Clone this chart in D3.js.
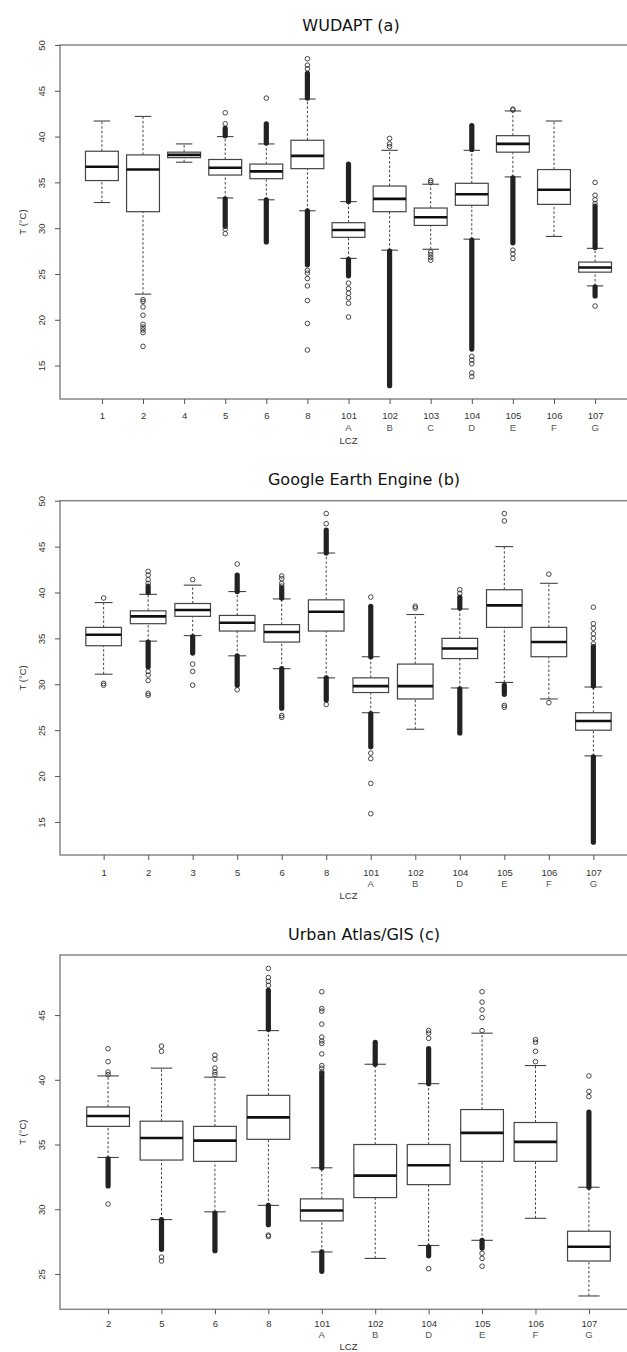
<!DOCTYPE html>
<html>
<head>
<meta charset="utf-8">
<script src="https://cdn.jsdelivr.net/npm/d3@7"></script>
<style>
  body { margin: 0; background: #fff; }
  svg { display: block; }
</style>
</head>
<body>
<div id="chart"></div>
<script>
// ---- panel (a) WUDAPT ----
const groupsA = ["1", "2", "4", "5", "6", "8", "101", "102", "103", "104", "105", "106", "107"];
const subA = ["", "", "", "", "", "", "A", "B", "C", "D", "E", "F", "G"];
// [lower whisker, Q1, median, Q3, upper whisker]
const boxA = [
  [32.8, 35.2, 36.7, 38.4, 41.7],
  [22.8, 31.8, 36.4, 38.0, 42.2],
  [37.2, 37.7, 38.0, 38.3, 39.2],
  [33.3, 35.8, 36.6, 37.5, 40.0],
  [33.1, 35.4, 36.2, 37.0, 39.2],
  [31.9, 36.5, 37.9, 39.6, 44.1],
  [26.7, 29.0, 29.8, 30.6, 32.9],
  [27.6, 31.8, 33.2, 34.6, 38.5],
  [27.7, 30.3, 31.2, 32.2, 34.8],
  [28.8, 32.5, 33.7, 34.9, 38.5],
  [35.6, 38.3, 39.2, 40.1, 42.8],
  [29.1, 32.6, 34.2, 36.4, 41.7],
  [23.7, 25.2, 25.7, 26.3, 27.8]
];
const outA = [
  [],
  [22.2, 22.0, 21.4, 20.5, 19.5, 19.2, 18.9, 18.6, 17.1],
  [],
  [42.6, 41.4, 29.9, 29.4],
  [44.2],
  [48.5, 47.8, 47.4, 25.4, 25.1, 24.5, 23.7, 22.1, 19.6, 16.7],
  [24.0, 23.4, 22.9, 22.4, 21.8, 20.3],
  [39.8, 39.2, 38.9],
  [35.2, 35.0, 27.4, 27.1, 26.8, 26.5],
  [16.0, 15.6, 15.2, 14.2, 13.8],
  [43.0, 42.9, 27.6, 27.2, 26.7],
  [],
  [35.0, 33.6, 33.1, 32.7, 21.5]
];
// stretches where outliers overlap into a solid column [from, to]
const runsA = [
  [], [], [],
  [[40.1, 40.9], [30.2, 33.2]],
  [[39.3, 41.4], [28.5, 33.1]],
  [[44.2, 46.9], [26.0, 31.9]],
  [[32.9, 37.0], [24.8, 26.6]],
  [[12.8, 27.5]],
  [],
  [[38.6, 41.2], [16.8, 28.7]],
  [[28.4, 35.5]],
  [],
  [[27.9, 32.4], [22.6, 23.6]]
];

// ---- panel (b) Google Earth Engine ----
const groupsB = ["1", "2", "3", "5", "6", "8", "101", "102", "104", "105", "106", "107"];
const subB = ["", "", "", "", "", "", "A", "B", "D", "E", "F", "G"];
const boxB = [
  [31.1, 34.2, 35.4, 36.2, 38.9],
  [34.7, 36.6, 37.4, 38.0, 39.8],
  [35.3, 37.4, 38.1, 38.8, 40.8],
  [33.1, 35.8, 36.7, 37.5, 40.1],
  [31.7, 34.6, 35.7, 36.5, 39.3],
  [30.7, 35.8, 37.9, 39.2, 44.3],
  [26.9, 29.1, 29.8, 30.7, 33.0],
  [25.1, 28.4, 29.8, 32.2, 37.6],
  [29.6, 32.8, 33.9, 35.0, 38.2],
  [30.2, 36.2, 38.6, 40.3, 45.0],
  [28.4, 33.0, 34.6, 36.2, 41.0],
  [22.2, 25.0, 26.0, 26.9, 29.7]
];
const outB = [
  [39.4, 30.1, 29.9],
  [42.3, 41.9, 41.4, 41.0, 31.4, 31.0, 30.4, 29.0, 28.8],
  [41.4, 32.2, 31.4, 29.9],
  [43.1, 29.4],
  [41.8, 41.5, 41.0, 40.7, 26.6, 26.4],
  [48.6, 47.5, 27.8],
  [39.5, 22.5, 21.9, 19.2, 15.9],
  [38.5, 38.3],
  [40.3, 39.9],
  [48.6, 47.8, 27.7, 27.5],
  [42.0, 28.0],
  [38.4, 36.6, 36.1, 35.5, 35.0, 34.4]
];
const runsB = [
  [],
  [[40.0, 40.7], [31.9, 34.6]],
  [[33.4, 35.2]],
  [[40.1, 41.9], [29.9, 33.1]],
  [[39.4, 40.5], [27.4, 31.7]],
  [[44.3, 46.8], [28.3, 30.7]],
  [[33.0, 38.5], [23.2, 26.8]],
  [],
  [[38.3, 39.5], [24.7, 29.5]],
  [[28.9, 29.9]],
  [],
  [[29.8, 34.1], [12.8, 22.1]]
];

// ---- panel (c) Urban Atlas/GIS ----
const groupsC = ["2", "5", "6", "8", "101", "102", "104", "105", "106", "107"];
const subC = ["", "", "", "", "A", "B", "D", "E", "F", "G"];
const boxC = [
  [34.0, 36.4, 37.2, 37.9, 40.3],
  [29.2, 33.8, 35.5, 36.8, 40.9],
  [29.8, 33.7, 35.3, 36.4, 40.2],
  [30.3, 35.4, 37.1, 38.8, 43.8],
  [26.7, 29.1, 29.9, 30.8, 33.2],
  [26.2, 30.9, 32.6, 35.0, 41.2],
  [27.2, 31.9, 33.4, 35.0, 39.7],
  [27.6, 33.7, 35.9, 37.7, 43.6],
  [29.3, 33.7, 35.2, 36.7, 41.1],
  [23.3, 26.0, 27.1, 28.3, 31.7]
];
const outC = [
  [42.4, 41.4, 40.6, 40.4, 30.4],
  [42.6, 42.2, 26.3, 26.0],
  [41.9, 41.6, 40.9, 40.6, 40.4],
  [48.6, 47.9, 47.6, 47.3, 28.0, 27.9],
  [46.8, 45.5, 45.3, 44.3, 43.3, 43.0, 42.8, 42.0, 41.1, 40.9, 40.6],
  [],
  [43.8, 43.6, 43.2, 25.4],
  [46.8, 46.0, 45.4, 44.8, 43.8, 26.6, 26.2, 25.6],
  [43.1, 42.9, 42.2, 41.4],
  [40.3, 39.1, 38.7]
];
const runsC = [
  [[31.8, 33.9]],
  [[26.9, 29.2]],
  [[26.8, 29.7]],
  [[43.9, 46.9], [28.8, 30.3]],
  [[33.2, 40.5], [25.2, 26.7]],
  [[41.2, 42.9]],
  [[39.7, 42.4], [26.4, 27.1]],
  [[27.0, 27.6]],
  [],
  [[31.7, 37.5]]
];

const ticksAB = [15, 20, 25, 30, 35, 40, 45, 50];
const ticksC = [25, 30, 35, 40, 45];

const panels = [
  { title: "WUDAPT (a)", tx: 351, ty: 25, top: 45, bottom: 399, domain: [11.35, 50], lab: [17, 29, 42],
    ticks: ticksAB, groups: groupsA, sub: subA, box: boxA, out: outA, runs: runsA },
  { title: "Google Earth Engine (b)", tx: 364, ty: 479, top: 500.7, bottom: 855, domain: [11.4, 50], lab: [17.5, 28.5, 41],
    ticks: ticksAB, groups: groupsB, sub: subB, box: boxB, out: outB, runs: runsB },
  { title: "Urban Atlas/GIS (c)", tx: 364, ty: 934, top: 955, bottom: 1309.3, domain: [22.27, 49.64], lab: [14, 25.5, 37.5],
    ticks: ticksC, groups: groupsC, sub: subC, box: boxC, out: outC, runs: runsC }
];

const width = 627, height = 1352;
const left = 60, right = 637;
const labelFont = "'Liberation Sans', Arial, sans-serif";

const svg = d3.select("#chart").append("svg")
  .attr("width", width)
  .attr("height", height);

panels.forEach(drawPanel);

function drawPanel(p) {
  const n = p.groups.length;
  // R-style 4% padding around the group positions
  const x = d3.scaleLinear()
    .domain([0.5 - 0.04 * n, n + 0.5 + 0.04 * n])
    .range([left, right]);
  const y = d3.scaleLinear().domain(p.domain).range([p.bottom, p.top]);
  const bw = (x(1) - x(0)) * 0.8;

  const g = svg.append("g");

  g.append("text")
    .attr("x", p.tx)
    .attr("y", p.ty)
    .attr("text-anchor", "middle")
    .attr("dominant-baseline", "central")
    .style("font-family", "'DejaVu Sans', sans-serif")
    .style("font-size", "16px")
    .style("fill", "#111")
    .text(p.title);

  const grp = g.selectAll(".grp")
    .data(p.box)
    .enter().append("g")
    .attr("class", "grp")
    .attr("transform", (d, i) => "translate(" + x(i + 1) + ",0)");

  // whiskers
  grp.append("line")
    .attr("y1", d => y(d[3])).attr("y2", d => y(d[4]))
    .attr("stroke", "#444").attr("stroke-width", 1).attr("stroke-dasharray", "2.5,2");
  grp.append("line")
    .attr("y1", d => y(d[0])).attr("y2", d => y(d[1]))
    .attr("stroke", "#444").attr("stroke-width", 1).attr("stroke-dasharray", "2.5,2");
  // staples
  [0, 4].forEach(k => {
    grp.append("line")
      .attr("x1", -bw / 4).attr("x2", bw / 4)
      .attr("y1", d => y(d[k])).attr("y2", d => y(d[k]))
      .attr("stroke", "#444").attr("stroke-width", 1.1);
  });

  // dense outlier columns
  grp.each(function (d, i) {
    d3.select(this).selectAll(".run")
      .data(p.runs[i])
      .enter().append("line")
      .attr("class", "run")
      .attr("y1", r => y(r[0])).attr("y2", r => y(r[1]))
      .attr("stroke", "#222").attr("stroke-width", 5.2)
      .attr("stroke-linecap", "round");
  });

  // boxes
  grp.append("rect")
    .attr("x", -bw / 2)
    .attr("width", bw)
    .attr("y", d => y(d[3]))
    .attr("height", d => y(d[1]) - y(d[3]))
    .attr("fill", "#fff")
    .attr("stroke", "#444")
    .attr("stroke-width", 1.2);
  grp.append("line")
    .attr("x1", -bw / 2).attr("x2", bw / 2)
    .attr("y1", d => y(d[2])).attr("y2", d => y(d[2]))
    .attr("stroke", "#111").attr("stroke-width", 2.6);

  // single outliers
  grp.each(function (d, i) {
    d3.select(this).selectAll(".pt")
      .data(p.out[i])
      .enter().append("circle")
      .attr("class", "pt")
      .attr("cy", v => y(v))
      .attr("r", 2.3)
      .attr("fill", "none")
      .attr("stroke", "#333")
      .attr("stroke-width", 0.9);
  });

  // plot frame
  g.append("rect")
    .attr("x", left).attr("y", p.top)
    .attr("width", right - left).attr("height", p.bottom - p.top)
    .attr("fill", "none").attr("stroke", "#888").attr("stroke-width", 1.5);

  // x axis
  const xa = g.append("g")
    .attr("transform", "translate(0," + p.bottom + ")")
    .call(d3.axisBottom(x)
      .tickValues(d3.range(1, n + 1))
      .tickSize(5)
      .tickFormat(i => p.groups[i - 1]));
  xa.select(".domain").remove();
  xa.selectAll("line").attr("stroke", "#555");
  xa.selectAll("text")
    .attr("y", p.lab[0] + 3.4).attr("dy", null)
    .attr("font-family", labelFont).attr("font-size", "9.5px").attr("fill", "#333");

  g.selectAll(".sub")
    .data(p.sub)
    .enter().append("text")
    .attr("class", "sub")
    .attr("x", (d, i) => x(i + 1))
    .attr("y", p.bottom + p.lab[1] + 3.4)
    .attr("text-anchor", "middle")
    .style("font-family", labelFont).style("font-size", "9.5px").style("fill", "#555")
    .text(d => d);

  g.append("text")
    .attr("x", (left + right) / 2)
    .attr("y", p.bottom + p.lab[2] + 3.4)
    .attr("text-anchor", "middle")
    .style("font-family", labelFont).style("font-size", "9.5px").style("fill", "#333")
    .text("LCZ");

  // y axis
  const ya = g.append("g")
    .attr("transform", "translate(" + left + ",0)")
    .call(d3.axisLeft(y).tickValues(p.ticks).tickSize(5));
  ya.select(".domain").remove();
  ya.selectAll("line").attr("stroke", "#555");
  ya.selectAll("text")
    .attr("x", null).attr("dy", null)
    .attr("transform", "translate(-14.6,0) rotate(-90)")
    .attr("text-anchor", "middle")
    .attr("font-family", labelFont).attr("font-size", "9.5px").attr("fill", "#333");

  g.append("text")
    .attr("transform", "translate(26," + ((p.top + p.bottom) / 2) + ") rotate(-90)")
    .attr("text-anchor", "middle")
    .style("font-family", labelFont).style("font-size", "9.5px").style("fill", "#333")
    .text("T (°C)");
}
</script>
</body>
</html>
